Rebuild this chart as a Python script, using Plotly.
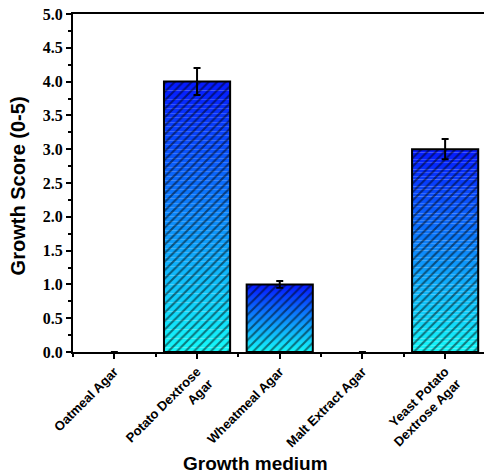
import plotly.graph_objects as go

categories = ["Oatmeal Agar", "Potato Dextrose<br>Agar", "Wheatmeal Agar",
              "Malt Extract Agar", "Yeast Potato<br>Dextrose Agar"]
growth_scores = [0.0, 4.0, 1.0, 0.0, 3.0]
growth_errors = [0.0, 0.2, 0.05, 0.0, 0.15]
y_tick_values = [0.0, 0.5, 1.0, 1.5, 2.0, 2.5, 3.0, 3.5, 4.0, 4.5, 5.0]

xpos = list(range(len(categories)))
N_SEG = 60
bottom_rgb = (20, 250, 250)
top_rgb = (5, 25, 255)

fig = go.Figure()
for k in range(N_SEG):
    t = (k + 0.5) / N_SEG
    c = tuple(round(bottom_rgb[i] + (top_rgb[i] - bottom_rgb[i]) * t) for i in range(3))
    fig.add_trace(go.Bar(
        x=xpos,
        y=[v / N_SEG for v in growth_scores],
        base=[v * k / N_SEG for v in growth_scores],
        width=0.8,
        marker=dict(color="rgb(%d,%d,%d)" % c, line=dict(width=0)),
        showlegend=False, hoverinfo="skip",
    ))

fig.add_trace(go.Bar(
    x=xpos, y=growth_scores, width=0.8,
    marker=dict(color="rgba(0,0,0,0)",
                line=dict(color="black", width=[2 if v > 0 else 0 for v in growth_scores]),
                pattern=dict(shape="/", fgcolor="black", bgcolor="rgba(0,0,0,0)",
                             size=6, solidity=0.35)),
    error_y=dict(type="data", array=[e if e > 0 else None for e in growth_errors],
                 color="black", thickness=2, width=3.5, visible=True),
    showlegend=False,
))

SANS = "Liberation Sans"
SERIF = "Liberation Serif"

fig.update_layout(
    width=484, height=474,
    barmode="overlay",
    paper_bgcolor="white", plot_bgcolor="white",
    margin=dict(l=73, r=0, t=14, b=122),
    xaxis=dict(
        range=[-0.5, 4.47],
        tickmode="array", tickvals=xpos,
        ticktext=["<b>%s</b>" % c.replace("<br>", "</b><br><b>") for c in categories],
        tickangle=-45,
        tickfont=dict(family=SANS, size=13, color="black"),
        ticks="outside", ticklen=5, tickwidth=2, tickcolor="black",
        minor=dict(ticks="outside", ticklen=3, tickwidth=1.5, tickcolor="black",
                   tickmode="linear", tick0=-0.5, dtick=1),
        showline=True, linecolor="black", linewidth=2, mirror=True,
        showgrid=False, zeroline=False,
    ),
    yaxis=dict(
        range=[0, 5],
        tickmode="array", tickvals=y_tick_values,
        ticktext=["<b>%.1f</b>" % v for v in y_tick_values],
        tickfont=dict(family=SERIF, size=16, color="black"),
        ticklabeloverflow="allow",
        ticks="outside", ticklen=5, tickwidth=2, tickcolor="black",
        minor=dict(ticks="outside", ticklen=3, tickwidth=1.5, tickcolor="black",
                   tickmode="linear", tick0=0.25, dtick=0.5),
        showline=True, linecolor="black", linewidth=2,
        showgrid=False, zeroline=False,
    ),
    annotations=[
        dict(text="<b>Growth medium</b>", xref="paper", yref="paper",
             x=0.443, y=0, yshift=-99, yanchor="top", xanchor="center",
             showarrow=False,
             font=dict(family=SANS, size=19, color="black")),
        dict(text="<b>Growth Score (0-5)</b>", xref="paper", yref="paper",
             x=0, xshift=-55, y=0.49, xanchor="center", yanchor="middle",
             textangle=-90, showarrow=False,
             font=dict(family=SANS, size=20, color="black")),
    ],
)

fig.write_html(
    "out.html",
    config={"displayModeBar": False},
    post_script="document.body.style.margin='0';document.body.style.overflow='hidden';",
)
